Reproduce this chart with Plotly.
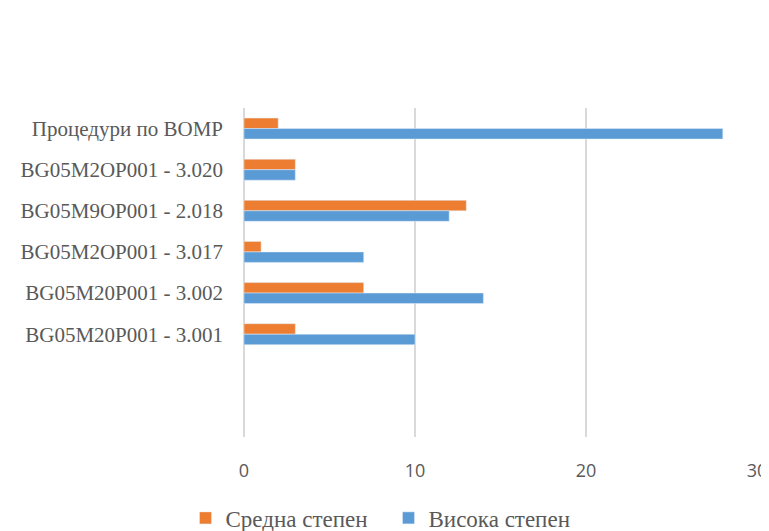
import plotly.graph_objects as go

# categories, top to bottom (two trailing blanks are empty slots in the original chart)
categories = ["Процедури по ВОМР", "BG05M2OP001 - 3.020", "BG05M9OP001 - 2.018",
              "BG05M2OP001 - 3.017", "BG05M20P001 - 3.002", "BG05M20P001 - 3.001",
              " ", "  "]
sredna = [2, 3, 13, 1, 7, 3, None, None]
visoka = [28, 3, 12, 7, 14, 10, None, None]

serif = "Liberation Serif, Times New Roman, serif"

fig = go.Figure()
fig.add_trace(go.Bar(y=categories, x=sredna, orientation="h", name="Средна степен",
                     marker=dict(color="#ED7D31")))
fig.add_trace(go.Bar(y=categories, x=visoka, orientation="h", name="Висока степен",
                     marker=dict(color="#5B9BD5")))

# page body has an 8px default margin, so the figure is 8px smaller than the window
fig.update_layout(
    width=761, height=523,
    paper_bgcolor="white", plot_bgcolor="white",
    barmode="group", bargap=0.49, bargroupgap=0,
    margin=dict(l=236, r=12, t=100, b=94),
    showlegend=True,
    legend=dict(orientation="h", xref="container", yref="container",
                x=0.5, xanchor="center", y=0.025, yanchor="middle",
                font=dict(family=serif, size=23, color="#595959"),
                traceorder="normal", entrywidth=158, itemwidth=30),
)
fig.update_xaxes(range=[0, 30], dtick=10, showgrid=True, gridcolor="#d9d9d9", gridwidth=1.5,
                 zeroline=True, zerolinecolor="#d9d9d9", zerolinewidth=1.5,
                 showline=False, ticks="", ticklabelstandoff=21, automargin=False,
                 tickfont=dict(family="Open Sans, sans-serif", size=18, color="#595959"))
fig.update_yaxes(autorange="reversed", showgrid=False, showline=False, ticks="",
                 ticklabelstandoff=20, automargin=False,
                 tickfont=dict(family=serif, size=21, color="#595959"))

fig.write_html("out.html")
